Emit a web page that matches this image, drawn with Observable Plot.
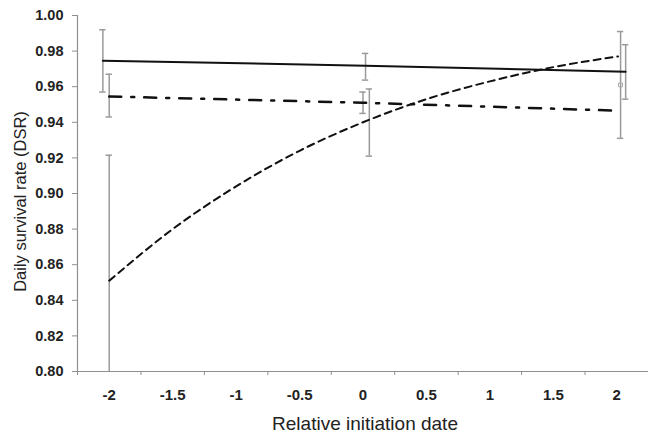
<!DOCTYPE html>
<html>
<head>
<meta charset="utf-8">
<script src="https://cdn.jsdelivr.net/npm/d3@7"></script>
<script src="https://cdn.jsdelivr.net/npm/@observablehq/plot@0.6"></script>
<style>
  html, body { margin: 0; padding: 0; background: #fff; }
  #chart svg { display: block; }
</style>
</head>
<body>
<div id="chart"></div>
<script>
// Category labels on the x axis
const xLabels = [-2, -1.5, -1, -0.5, 0, 0.5, 1, 1.5, 2];
// Tick marks sit between categories
const xTickPos = [-2.25, -1.75, -1.25, -0.75, -0.25, 0.25, 0.75, 1.25, 1.75];
const yTicks = [0.80, 0.82, 0.84, 0.86, 0.88, 0.90, 0.92, 0.94, 0.96, 0.98, 1.00];

// Solid series
const solidX = [-2.05, 0.02, 2.07];
const solidY = [0.9746, 0.9718, 0.9684];
// Dash-dot series
const dashDotX = [-2.0, 0.0, 2.02];
const dashDotY = [0.9545, 0.951, 0.9465];
// Dashed series (curve)
const dashedX = [-2, -1.5, -1, -0.5, 0, 0.5, 1, 1.5, 2.01];
const dashedY = [0.851, 0.880, 0.904, 0.924, 0.940, 0.953, 0.963, 0.971, 0.977];

// Error bars
const errX  = [-2.05, 0.02, 2.07, -2.0, 0.0, 2.03, -2.0, 0.05];
const errLo = [0.957, 0.9637, 0.953, 0.943, 0.945, 0.931, 0.78, 0.921];
const errHi = [0.992, 0.9787, 0.9836, 0.967, 0.957, 0.991, 0.9215, 0.9587];
// Small marker on the tall right-hand bar
const markX = [2.03];
const markY = [0.961];

const solid = solidX.map((x, i) => ({x, y: solidY[i]}));
const dashDot = dashDotX.map((x, i) => ({x, y: dashDotY[i]}));
const dashed = dashedX.map((x, i) => ({x, y: dashedY[i]}));
const errs = errX.map((x, i) => ({x, lo: errLo[i], hi: errHi[i]}));
const caps = errs.flatMap(d => [{x: d.x, y: d.lo}, {x: d.x, y: d.hi}]);
const marks = markX.map((x, i) => ({x, y: markY[i]}));

const FONT = "'Liberation Sans', Arial, sans-serif";
const AXIS = "#8f8f8f";
const BAR = "#9a9a9a";
const INK = "#111";
const capHalf = 0.025;

const chart = Plot.plot({
  width: 648,
  height: 437,
  marginLeft: 77,
  marginRight: 0,
  marginTop: 15,
  marginBottom: 66,
  style: {fontFamily: FONT, background: "#fff", color: "#222", overflow: "visible"},
  x: {domain: [-2.25, 2.25], axis: null},
  y: {domain: [0.80, 1.00], axis: null},
  marks: [
    // axis lines
    Plot.ruleX([-2.25], {stroke: AXIS, strokeWidth: 1.2}),
    Plot.ruleY([0.80], {stroke: AXIS, strokeWidth: 1.2}),
    // y ticks + labels
    Plot.axisY({ticks: yTicks, tickSize: 5, tickPadding: 9, stroke: AXIS, fill: "#222",
      tickFormat: d3.format(".2f"), fontSize: 14.5, fontWeight: "bold", label: null}),
    // x ticks (between categories)
    Plot.axisX({ticks: xTickPos, tickSize: 4, tickFormat: () => "", stroke: AXIS, label: null}),
    // x labels
    Plot.text(xLabels, {x: d => d, y: () => 0.80, dy: 24, text: d => String(d),
      fontSize: 15, fontWeight: "bold", fill: "#222"}),
    // axis titles
    Plot.text(["Daily survival rate (DSR)"], {frameAnchor: "left", textAnchor: "middle", rotate: -90,
      dx: -57, dy: 8, fontSize: 16.5, fill: "#222"}),
    Plot.text(["Relative initiation date"], {frameAnchor: "bottom", textAnchor: "middle", lineAnchor: "middle",
      dx: 2, dy: 52, fontSize: 19, fill: "#222"}),
    // error bars
    Plot.ruleX(errs, {x: "x", y1: "lo", y2: "hi", stroke: BAR, strokeWidth: 1.5, clip: true}),
    Plot.ruleY(caps, {x1: d => d.x - capHalf, x2: d => d.x + capHalf, y: "y", stroke: BAR, strokeWidth: 1.5, clip: true}),
    Plot.dot(marks, {x: "x", y: "y", symbol: "square", r: 2.2, stroke: "#aaa", strokeWidth: 1}),
    // series
    Plot.line(solid, {x: "x", y: "y", stroke: INK, strokeWidth: 2}),
    Plot.line(dashDot, {x: "x", y: "y", stroke: INK, strokeWidth: 2.5, strokeDasharray: "12,10,3,10"}),
    Plot.line(dashed, {x: "x", y: "y", stroke: INK, strokeWidth: 2, strokeDasharray: "7,5", curve: "monotone-x"})
  ]
});

document.getElementById("chart").appendChild(chart);
</script>
</body>
</html>
